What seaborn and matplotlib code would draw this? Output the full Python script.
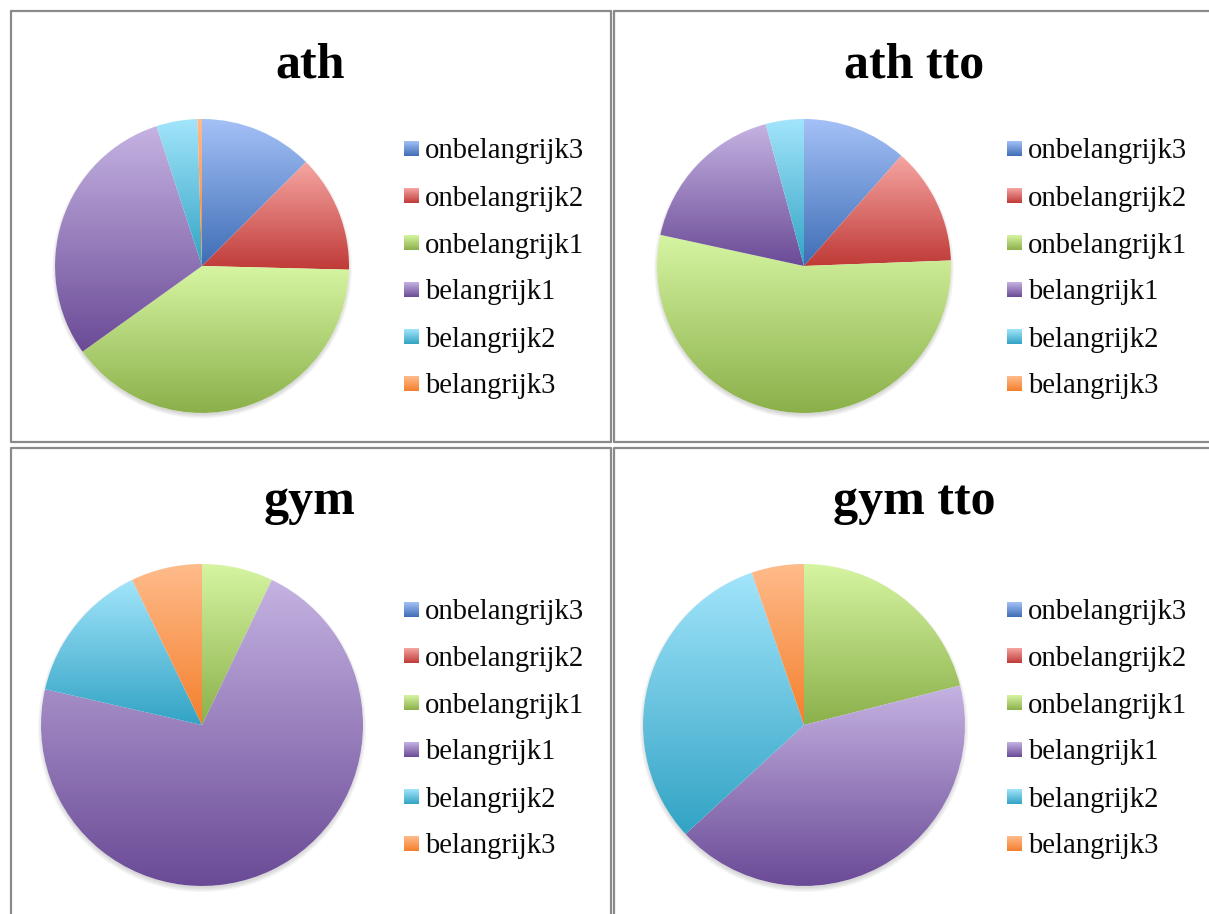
import numpy as np
import matplotlib
matplotlib.use("Agg")
import matplotlib.pyplot as plt
import seaborn as sns
from matplotlib.colors import LinearSegmentedColormap
from matplotlib.patches import Circle
from matplotlib.lines import Line2D

# ---------------- data ----------------
categories = ["onbelangrijk3", "onbelangrijk2", "onbelangrijk1",
              "belangrijk1", "belangrijk2", "belangrijk3"]
titles = ["ath", "ath tto", "gym", "gym tto"]
ath = [12.5, 12.9, 39.7, 29.9, 4.5, 0.5]
ath_tto = [11.5, 12.9, 54.0, 17.4, 4.2, 0.0]
gym = [0, 0, 1, 10, 2, 1]
gym_tto = [0, 0, 4, 8, 6, 1]
series = [ath, ath_tto, gym, gym_tto]

# gradient colours (top -> bottom)
light = ["#a4c1f7", "#f6a6a3", "#d6f5a2", "#c5b3e2", "#a2e5fb", "#ffbc8c"]
dark = ["#3e6db5", "#bf3a37", "#8bb04a", "#6a4a96", "#32a3c4", "#f47f2c"]

sns.set_theme(style="white")
plt.rcParams["font.family"] = ["Liberation Serif", "DejaVu Serif"]

W, H = 1209, 914
fig = plt.figure(figsize=(W / 100, H / 100), dpi=100)
fig.patch.set_facecolor("white")

# layout in pixels
panels = [
    dict(cx=202, cy=266, r=147, tx=310, ty=77, lx=404, rows=[148.3, 195.7, 242.7, 289.3, 336.7, 383.3]),
    dict(cx=804, cy=266, r=147, tx=914, ty=77, lx=1007, rows=[148.3, 195.7, 242.7, 289.3, 336.7, 383.3]),
    dict(cx=202, cy=725, r=161, tx=310, ty=514, lx=404, rows=[609.3, 656.0, 702.7, 749.3, 796.7, 843.3]),
    dict(cx=804, cy=725, r=161, tx=914, ty=514, lx=1007, rows=[609.3, 656.0, 702.7, 749.3, 796.7, 843.3]),
]

grad = np.linspace(0, 1, 256).reshape(-1, 1)
cmaps = [LinearSegmentedColormap.from_list(f"c{i}", [lo, hi]) for i, (lo, hi) in enumerate(zip(light, dark))]

for p, vals in zip(panels, series):
    cx, cy, r = p["cx"], p["cy"], p["r"]
    ax = fig.add_axes([(cx - r) / W, 1 - (cy + r) / H, 2 * r / W, 2 * r / H])
    ax.set_axis_off()
    # soft shadow, mostly below the pie
    for k in range(4):
        ax.add_patch(Circle((0.0, -0.018), 0.995 + 0.008 * k, facecolor="#000000",
                            alpha=0.04, edgecolor="none", zorder=0, clip_on=False))
    ax.add_patch(Circle((0, 0), 1.0, facecolor="white", edgecolor="none", zorder=0.5))
    wedges, _ = ax.pie(vals, startangle=90, counterclock=False, radius=1,
                       wedgeprops=dict(linewidth=0))
    for w, v, cm in zip(wedges, vals, cmaps):
        if v <= 0:
            w.set_visible(False)
            continue
        ext = w.get_path().get_extents()
        w.set_facecolor("none")
        im = ax.imshow(grad, cmap=cm, extent=(ext.x0, ext.x1, ext.y0, ext.y1),
                       origin="upper", aspect="auto", interpolation="bilinear", zorder=2)
        im.set_clip_path(w)
    ax.set_xlim(-1, 1)
    ax.set_ylim(-1, 1)
    ax.set_aspect("auto")

# overlay axes in pixel coordinates for frames, titles, legends
ov = fig.add_axes([0, 0, 1, 1])
ov.set_axis_off()
ov.patch.set_alpha(0)

frame_kw = dict(color="#8a8a8a", linewidth=1.6, clip_on=False)
# top-left
ov.add_line(Line2D([10.5, 610.5, 610.5, 10.5, 10.5], [10.5, 10.5, 441.5, 441.5, 10.5], **frame_kw))
# top-right
ov.add_line(Line2D([1230, 613.5, 613.5, 1230], [10.5, 10.5, 441.5, 441.5], **frame_kw))
# bottom-left
ov.add_line(Line2D([10.5, 10.5, 610.5, 610.5], [930, 447.5, 447.5, 930], **frame_kw))
# bottom-right
ov.add_line(Line2D([613.5, 613.5, 1230], [930, 447.5, 447.5], **frame_kw))

sq = 15
for p, t in zip(panels, titles):
    ov.text(p["tx"], p["ty"], t, ha="center", va="baseline", fontsize=36,
            fontweight="bold", color="black")
    for i, (lab, yc) in enumerate(zip(categories, p["rows"])):
        x0 = p["lx"]
        ov.imshow(grad, cmap=cmaps[i], extent=(x0, x0 + sq, yc + sq / 2, yc - sq / 2),
                  origin="upper", aspect="auto", interpolation="bilinear")
        ov.text(x0 + 21, yc + 10, lab, ha="left", va="baseline", fontsize=20.6, color="#0a0a0a")

ov.set_xlim(0, W)
ov.set_ylim(H, 0)
ov.set_aspect("auto")

fig.savefig("out.png", dpi=100, facecolor="white")
